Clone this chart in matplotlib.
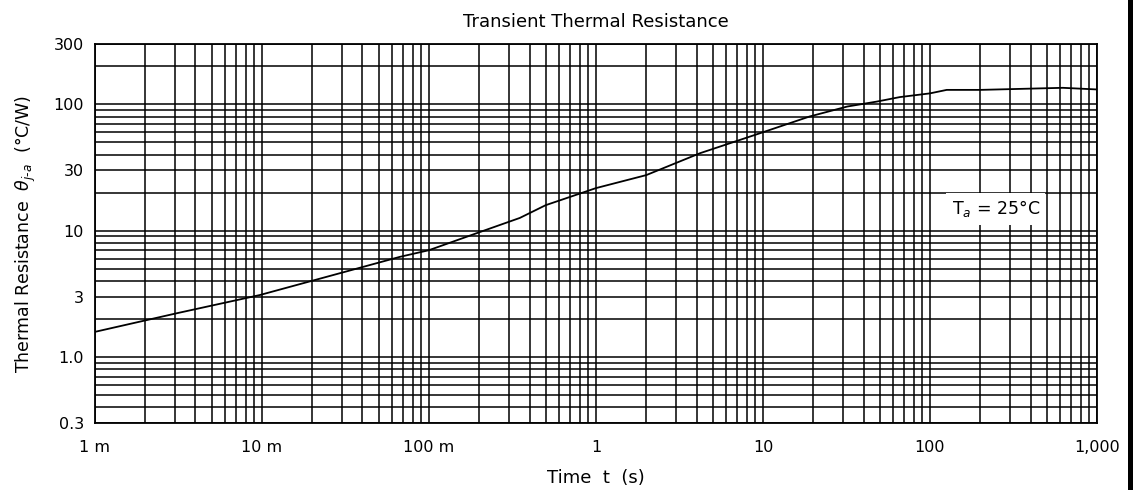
import matplotlib
matplotlib.use("Agg")
import matplotlib.pyplot as plt
from matplotlib.patches import Rectangle

# values
time_s = [1e-3, 3.1e-3, 9.7e-3, 0.067, 0.1, 0.2, 0.35, 0.5, 1, 2, 4.2, 9.6,
          19, 32, 48, 66, 100, 126, 200, 625, 1000]
theta_ja = [1.58, 2.22, 3.09, 6.2, 7.0, 9.7, 12.6, 15.9, 21.7, 27.5, 41, 59,
            80, 96, 105, 114, 122, 130, 130, 135, 131]

x_ticks = [1e-3, 1e-2, 1e-1, 1, 10, 100, 1000]
x_labels = ["1 m", "10 m", "100 m", "1", "10", "100", "1,000"]
y_ticks = [0.3, 1.0, 3, 10, 30, 100, 300]
y_labels = ["0.3", "1.0", "3", "10", "30", "100", "300"]

plt.rcParams['font.family'] = ['DejaVu Sans']
plt.rcParams['mathtext.fontset'] = 'dejavusans'

fig = plt.figure(figsize=(11.33, 4.9), dpi=100)
ax = fig.add_axes([0.0838, 0.1367, 0.8844, 0.7735])

ax.set_xscale('log')
ax.set_yscale('log')
ax.set_xlim(1e-3, 1000)
ax.set_ylim(0.3, 300)

ax.grid(True, which='both', color='black', linewidth=1.1)
ax.set_axisbelow(True)
ax.plot(time_s, theta_ja, color='black', linewidth=1.3)

ax.set_xticks(x_ticks)
ax.set_xticklabels(x_labels)
ax.set_yticks(y_ticks)
ax.set_yticklabels(y_labels)
ax.minorticks_on()
ax.tick_params(which='both', length=0, labelsize=11.5)
ax.tick_params(axis='x', pad=12)
ax.tick_params(axis='y', pad=8)
ax.xaxis.set_minor_formatter(plt.NullFormatter())
ax.yaxis.set_minor_formatter(plt.NullFormatter())
for s in ax.spines.values():
    s.set_linewidth(1.3)

ax.set_title("Transient Thermal Resistance", fontsize=13, pad=12)
ax.set_xlabel("Time  t  (s)", fontsize=13, labelpad=10)
ax.set_ylabel(r"Thermal Resistance  $\theta_{j\text{-}a}$  (°C/W)", fontsize=12.5, labelpad=11)

ax.text(0.899, 0.565, r"T$_a$ = 25°C", transform=ax.transAxes, fontsize=12.5,
        ha='center', va='center',
        bbox=dict(boxstyle='square,pad=0.3', facecolor='white', edgecolor='none'))

# black strip at the right edge of the scan
fig.add_artist(Rectangle((1128 / 1133, 0), 5 / 1133, 1, transform=fig.transFigure,
                         facecolor='black', edgecolor='none'))

fig.savefig("out.png", dpi=100)
